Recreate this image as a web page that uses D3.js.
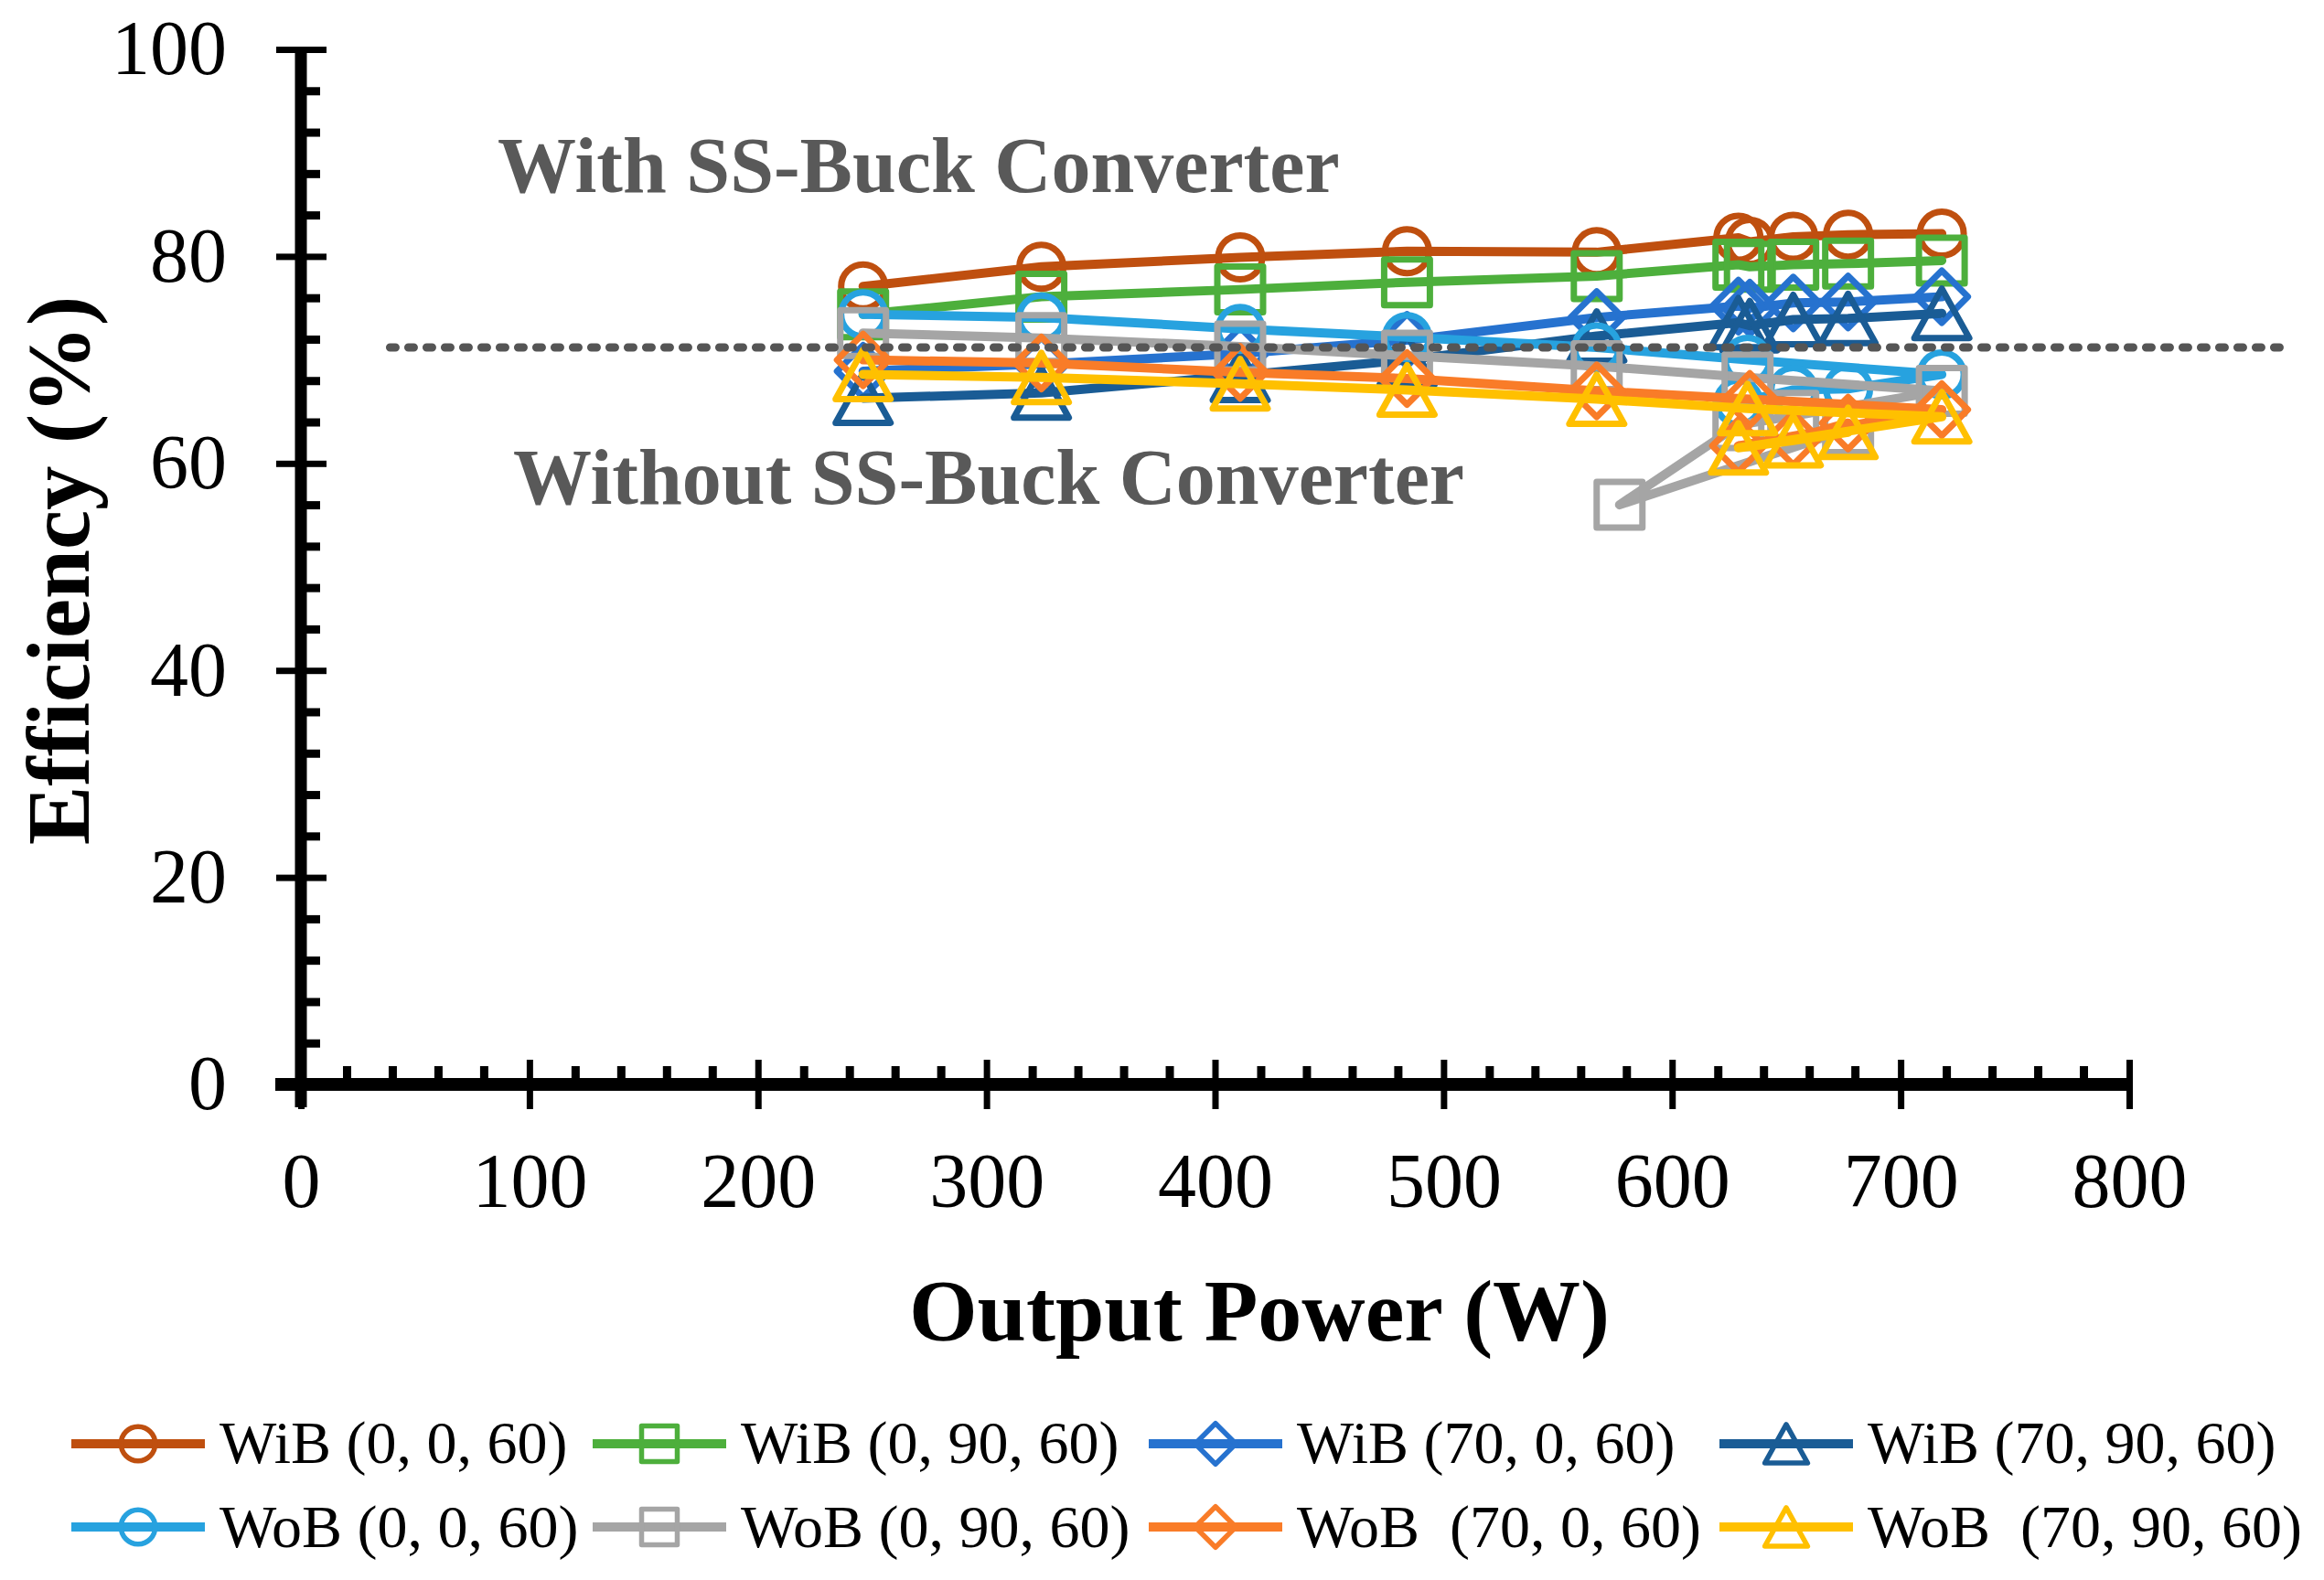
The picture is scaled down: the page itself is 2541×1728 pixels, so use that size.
<!DOCTYPE html>
<html><head><meta charset="utf-8">
<script src="https://cdn.jsdelivr.net/npm/d3@7"></script>
<style>
html,body{margin:0;padding:0;background:#fff;}
svg{display:block;background:#fff;}
text{font-family:"Liberation Serif","Times New Roman",serif;}
</style></head><body>
<svg id="chart" width="2541" height="1728"></svg>
<script>
// ---------------- DATA ----------------
const seriesNames = ["WiB (0, 0, 60)", "WiB (0, 90, 60)", "WiB (70, 0, 60)", "WiB (70, 90, 60)",
                     "WoB (0, 0, 60)", "WoB (0, 90, 60)", "WoB  (70, 0, 60)", "WoB  (70, 90, 60)"];
// Output power (W) per series, in plotting order
const powerWiB        = [246, 324, 411, 484, 567, 629, 634, 653, 677, 718];
const powerWoB_0_0    = [246, 324, 411, 484, 567, 633, 718, 677, 653, 629];
const powerWoB_0_90   = [246, 324, 411, 484, 567, 633, 718, 653, 629, 577, 677];
const powerWoB_70_0   = [246, 324, 411, 484, 567, 634, 718, 629, 653, 677];
const powerWoB_70_90  = [246, 324, 411, 484, 567, 633, 718, 629, 653, 677];
// Efficiency (%) per series
const effWiB_0_0   = [77.1, 79.0, 79.9, 80.5, 80.4, 81.8, 81.4, 81.9, 82.1, 82.2];
const effWiB_0_90  = [74.4, 76.1, 76.8, 77.5, 78.1, 79.2, 79.0, 79.2, 79.3, 79.6];
const effWiB_70_0  = [68.9, 69.6, 70.6, 71.9, 74.1, 75.2, 75.0, 75.5, 75.6, 76.1];
const effWiB_70_90 = [66.3, 66.8, 68.5, 70.0, 72.3, 73.6, 73.3, 73.9, 74.0, 74.5];
const effWoB_0_0   = [74.4, 74.1, 73.0, 72.2, 71.2, 70.0, 68.6, 67.2, 67.1, 65.9];
const effWoB_0_90  = [72.6, 72.1, 71.3, 70.4, 69.4, 68.3, 67.0, 64.6, 63.7, 56.0, 63.3];
const effWoB_70_0  = [70.0, 69.7, 68.8, 68.2, 67.0, 66.2, 65.2, 61.7, 62.4, 63.9];
const effWoB_70_90 = [68.6, 68.3, 67.7, 67.1, 66.2, 65.3, 64.5, 61.5, 62.2, 63.0];
// threshold (dotted) line, %
const refEfficiency = 71.2;
const refPowerRange = [39, 870];
// axis ticks
const xTicks = [0, 100, 200, 300, 400, 500, 600, 700, 800];
const yTicks = [0, 20, 40, 60, 80, 100];
const xMinorStep = 20, yMinorStep = 4;
const annotations = ["With SS-Buck Converter", "Without SS-Buck Converter"];
const xTitle = "Output Power (W)", yTitle = "Efficiency (%)";

// ---------------- STYLE ----------------
const colors = ["#BF4F0F", "#4DAF3C", "#2672CF", "#1A5C95", "#27A2DF", "#A5A5A5", "#F97C28", "#FFC000"];
const shapes = ["circle", "square", "diamond", "triangle", "circle", "square", "diamond", "triangle"];

const powers = [powerWiB, powerWiB, powerWiB, powerWiB, powerWoB_0_0, powerWoB_0_90, powerWoB_70_0, powerWoB_70_90];
const effs = [effWiB_0_0, effWiB_0_90, effWiB_70_0, effWiB_70_90, effWoB_0_0, effWoB_0_90, effWoB_70_0, effWoB_70_90];
const series = seriesNames.map((n, i) => ({
  name: n, color: colors[i], shape: shapes[i],
  pts: powers[i].map((p, j) => ({x: p, y: effs[i][j]}))
}));

const svg = d3.select("#chart");
const x = d3.scaleLinear().domain([0, 800]).range([329, 2328]);
const y = d3.scaleLinear().domain([0, 100]).range([1186, 54]);
const X0 = x(0), Y0 = y(0);

function marker(g, shape, color, s, sw) {
  let el;
  if (shape === "circle") el = g.append("circle").attr("r", 24 * s);
  else if (shape === "square") el = g.append("rect").attr("x", -25 * s).attr("y", -25 * s).attr("width", 50 * s).attr("height", 50 * s);
  else if (shape === "diamond") el = g.append("path").attr("d", `M0,${-28.5*s}L${28.5*s},0L0,${28.5*s}L${-28.5*s},0Z`);
  else el = g.append("path").attr("d", `M0,${-27*s}L${30*s},${27*s}L${-30*s},${27*s}Z`);
  el.attr("fill", "none").attr("stroke", color).attr("stroke-width", sw).attr("stroke-linejoin", "round");
}

// ---------------- SERIES ----------------
const line = d3.line().x(d => x(d.x)).y(d => y(d.y));
const plot = svg.append("g");
series.forEach(s => {
  const g = plot.append("g");
  g.append("path").datum(s.pts).attr("d", line).attr("fill", "none")
    .attr("stroke", s.color).attr("stroke-width", 10).attr("stroke-linejoin", "round").attr("stroke-linecap", "round");
  g.selectAll("g.m").data(s.pts).join("g").attr("class", "m")
    .attr("transform", d => `translate(${x(d.x)},${y(d.y)})`)
    .each(function () { marker(d3.select(this), s.shape, s.color, 1, 7); });
});

// ---------------- DOTTED REFERENCE LINE ----------------
svg.append("line")
  .attr("x1", x(refPowerRange[0])).attr("x2", x(refPowerRange[1]))
  .attr("y1", y(refEfficiency)).attr("y2", y(refEfficiency))
  .attr("stroke", "#555").attr("stroke-width", 9).attr("stroke-linecap", "round")
  .attr("stroke-dasharray", "6,14");

// ---------------- AXES ----------------
const axFont = 84;
const yMinor = d3.range(0, 101, yMinorStep).filter(v => v % 20 !== 0);
const xMinor = d3.range(0, 801, xMinorStep).filter(v => v % 100 !== 0);

const gy = svg.append("g").attr("transform", `translate(${X0},0)`);
gy.call(d3.axisLeft(y).tickValues(yTicks).tickSize(27).tickSizeOuter(0).tickPadding(54).tickFormat(d3.format("d")));
gy.append("g").call(d3.axisLeft(y).tickValues(yTicks).tickSize(-28).tickSizeOuter(0).tickFormat(""));
gy.append("g").attr("class", "minor").call(d3.axisLeft(y).tickValues(yMinor).tickSize(-21).tickSizeOuter(0).tickFormat(""));

const gx = svg.append("g").attr("transform", `translate(0,${Y0})`);
gx.call(d3.axisBottom(x).tickValues(xTicks).tickSize(27).tickSizeOuter(0).tickPadding(47).tickFormat(d3.format("d")));
gx.append("g").call(d3.axisBottom(x).tickValues(xTicks).tickSize(-27).tickSizeOuter(0).tickFormat(""));
gx.append("g").attr("class", "minor").call(d3.axisBottom(x).tickValues(xMinor).tickSize(-20).tickSizeOuter(0).tickFormat(""));

svg.selectAll(".domain").attr("stroke", "none");
svg.selectAll(".tick line").attr("stroke", "#000").attr("stroke-width", 7);
svg.selectAll(".minor .tick line").attr("stroke-width", 9);
svg.selectAll(".tick text").attr("font-size", axFont).attr("fill", "#000")
  .style("font-family", '"Liberation Serif","Times New Roman",serif');

// thick axis lines
svg.append("line").attr("x1", X0).attr("x2", X0).attr("y1", y(100) - 3).attr("y2", Y0 + 25)
  .attr("stroke", "#000").attr("stroke-width", 13);
svg.append("line").attr("x1", X0 - 28).attr("x2", x(800) + 4).attr("y1", Y0).attr("y2", Y0)
  .attr("stroke", "#000").attr("stroke-width", 14);

// ---------------- TITLES ----------------
svg.append("text").attr("x", 1377).attr("y", 1466).attr("text-anchor", "middle")
  .attr("font-size", 96).attr("font-weight", "bold").text(xTitle);
svg.append("text").attr("transform", "translate(97,624) rotate(-90)").attr("text-anchor", "middle")
  .attr("font-size", 97).attr("font-weight", "bold").text(yTitle);

svg.append("text").attr("x", 544).attr("y", 210).attr("font-size", 86).attr("font-weight", "bold")
  .attr("fill", "#595959").text(annotations[0]);
svg.append("text").attr("x", 561).attr("y", 551).attr("font-size", 86).attr("font-weight", "bold")
  .attr("fill", "#595959").text(annotations[1]);

// ---------------- LEGEND ----------------
const legX = [78, 648, 1256, 1880];
const legLineY = [1579, 1670];
const legTextY = [1600, 1692];
const leg = svg.append("g");
series.forEach((s, i) => {
  const col = i % 4, row = Math.floor(i / 4);
  const g = leg.append("g").attr("transform", `translate(${legX[col]},${legLineY[row]})`);
  g.append("line").attr("x1", 0).attr("x2", 146).attr("y1", 0).attr("y2", 0)
    .attr("stroke", s.color).attr("stroke-width", 10);
  const m = g.append("g").attr("transform", "translate(73,0)");
  marker(m, s.shape, s.color, 0.78, 5.5);
  g.append("text").attr("x", 162).attr("y", legTextY[row] - legLineY[row])
    .attr("font-size", 66).attr("fill", "#000").style("white-space", "pre").text(s.name);
});
</script>
</body></html>
